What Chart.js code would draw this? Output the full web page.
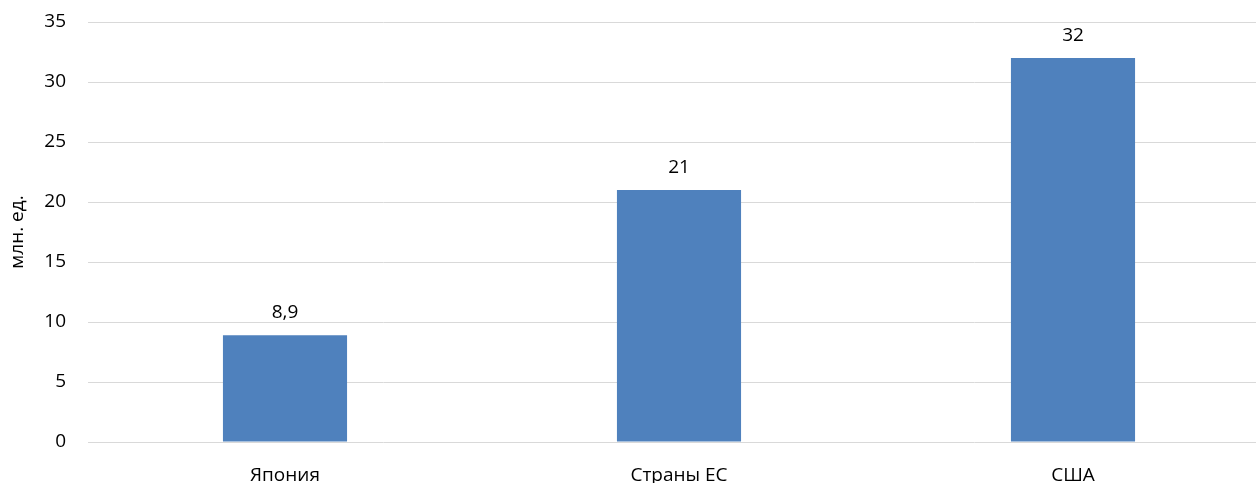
<!DOCTYPE html>
<html>
<head>
<meta charset="utf-8">
<script src="https://cdn.jsdelivr.net/npm/chart.js@4"></script>
<style>
  html, body { margin: 0; padding: 0; overflow: hidden; background: #fff; }
  #wrap { position: absolute; left: 0; top: 0; width: 1270px; height: 483px; }
</style>
</head>
<body>
<div id="wrap"><canvas id="barChart"></canvas></div>
<script>
const categories = ['Япония', 'Страны ЕС', 'США'];
const values = [8.9, 21, 32];
const yTicks = [0, 5, 10, 15, 20, 25, 30, 35];

// подписи значений над столбцами
const valueLabels = {
    id: 'valueLabels',
    afterDatasetsDraw(chart) {
        const ctx = chart.ctx;
        const meta = chart.getDatasetMeta(0);
        ctx.save();
        ctx.font = '19px "Open Sans"';
        ctx.fillStyle = '#000';
        ctx.textAlign = 'center';
        ctx.textBaseline = 'bottom';
        meta.data.forEach(function (bar, i) {
            const txt = String(values[i]).replace('.', ',');
            ctx.fillText(txt, bar.x, bar.y - 13);
        });
        ctx.restore();
    }
};

document.addEventListener('DOMContentLoaded', function () {
    const ctx = document.getElementById('barChart').getContext('2d');
    new Chart(ctx, {
        type: 'bar',
        data: {
            labels: categories,
            datasets: [{
                data: values,
                backgroundColor: '#4f81bd',
                borderWidth: 0,
                barPercentage: 0.315,
                categoryPercentage: 1
            }]
        },
        options: {
            responsive: true,
            maintainAspectRatio: false,
            animation: false,
            layout: { padding: { top: 22, right: 0, bottom: 0, left: 0 } },
            plugins: {
                legend: { display: false },
                tooltip: { enabled: false }
            },
            scales: {
                x: {
                    grid: { display: false, drawTicks: false },
                    border: { display: false },
                    ticks: { color: '#000', font: { family: 'Open Sans', size: 19 }, padding: 22 },
                    afterFit: function (s) { s.height = 41; }
                },
                y: {
                    min: 0,
                    max: 35,
                    afterBuildTicks: function (s) { s.ticks = yTicks.map(v => ({ value: v })); },
                    grid: { color: '#d9d9d9', lineWidth: 1, drawTicks: false },
                    border: { display: false },
                    ticks: { color: '#000', font: { family: 'Open Sans', size: 19 }, padding: 22 },
                    title: {
                        display: true,
                        text: 'млн. ед.',
                        color: '#000',
                        font: { family: 'Open Sans', size: 19 },
                        padding: { top: 6, bottom: 0 }
                    },
                    afterFit: function (s) {
                        s.width = 88;
                        s.paddingTop = 0;
                        s.paddingBottom = 0;
                    }
                }
            }
        },
        plugins: [valueLabels]
    });
});
</script>
</body>
</html>
